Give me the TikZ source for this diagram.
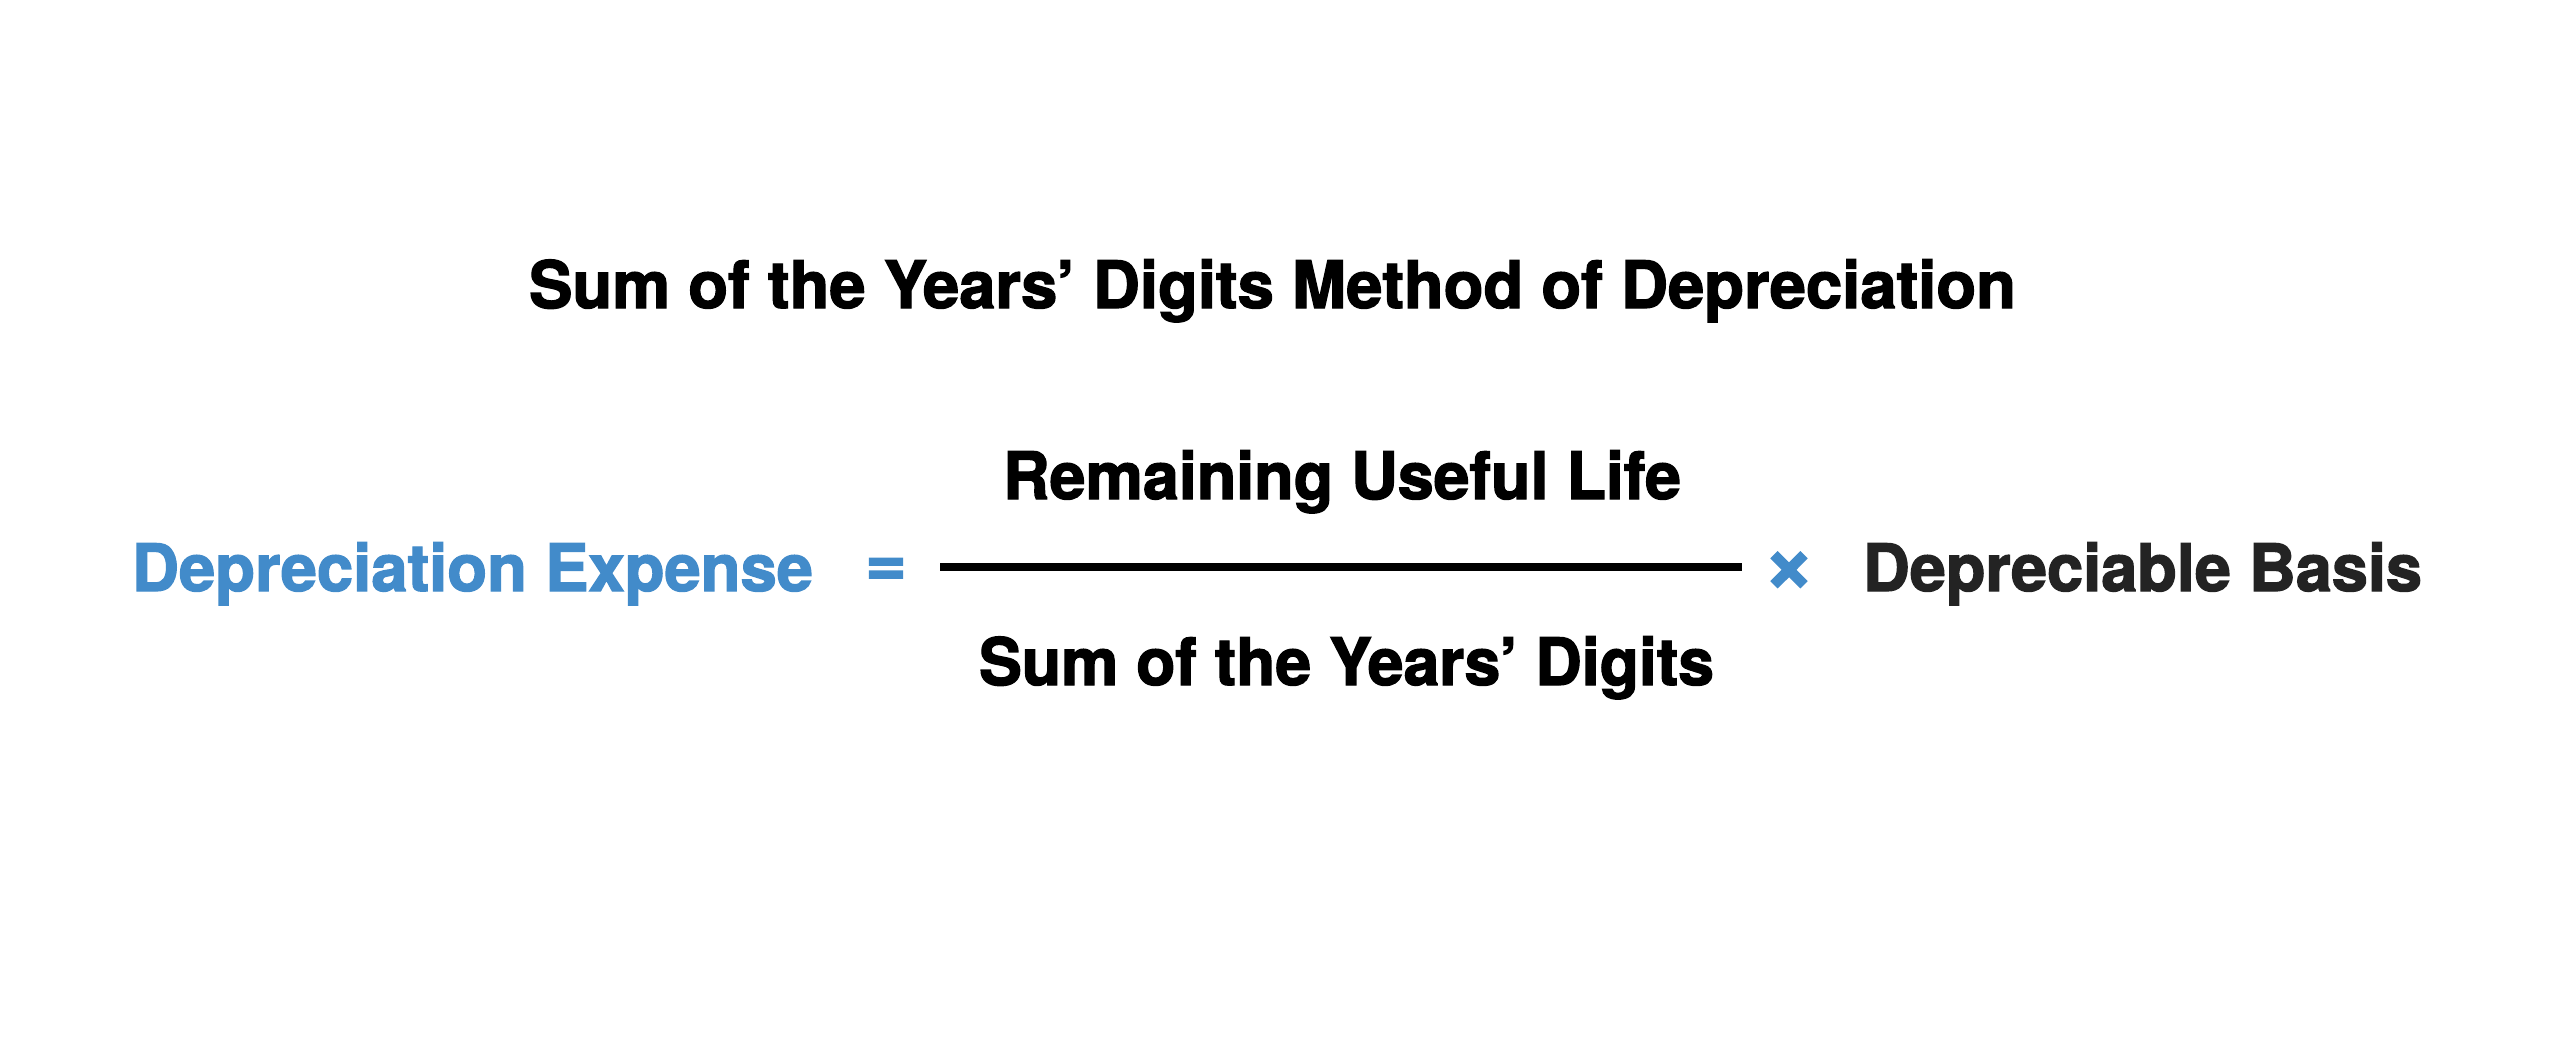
\documentclass[tikz,border=0pt]{standalone}
\usepackage{fontspec}
\setmainfont{TeX Gyre Heros}
\newfontfamily\heavy[FakeBold=2]{TeX Gyre Heros Bold}
\usepackage{graphicx}
\definecolor{eqblue}{RGB}{66,139,202}
\definecolor{darktxt}{RGB}{35,35,35}
\newlength\fitlen
\newsavebox\fitbox
\newcommand\fitto[2]{\sbox\fitbox{#2}\setlength\fitlen{\wd\fitbox}\pgfmathsetmacro\fitfac{#1/\fitlen}\scalebox{\fitfac}[1]{\usebox\fitbox}}
\tikzset{
  lbl/.style={inner sep=0pt, outer sep=0pt, anchor=base west, font=\fontsize{18.6}{22}\selectfont\heavy},
  op/.style={inner sep=0pt, outer sep=0pt, anchor=center, text=eqblue, font=\fontsize{20}{24}\selectfont\heavy},
  opx/.style={op, font=\fontsize{25}{30}\selectfont\heavy},
  fracline/.style={line width=2pt, black}
}
\begin{document}
\begin{tikzpicture}[x=1cm,y=1cm]
\useasboundingbox[fill=white] (0,0) rectangle (25.6,-10.45);
\node[lbl] (title) at (5.29,-3.08) {\fitto{14.87cm}{Sum of the Years’ Digits Method of Depreciation}};
\node[lbl] (num) at (10.03,-4.99) {\fitto{6.78cm}{Remaining Useful Life}};
\node[lbl] (den) at (9.79,-6.85) {\fitto{7.35cm}{Sum of the Years’ Digits}};
\node[lbl, text=eqblue] (lhs) at (1.32,-5.91) {\fitto{6.81cm}{Depreciation Expense}};
\node[lbl, text=darktxt] (basis) at (18.63,-5.91) {\fitto{5.59cm}{Depreciable Basis}};
\node[op] (eq) at (8.86,-5.72) {=};
\node[opx] (times) at (17.89,-5.72) {×};
\coordinate (fl) at (9.40,-5.67);
\coordinate (fr) at (17.42,-5.67);
\draw[fracline] (fl) -- (fr);
\end{tikzpicture}
\end{document}
